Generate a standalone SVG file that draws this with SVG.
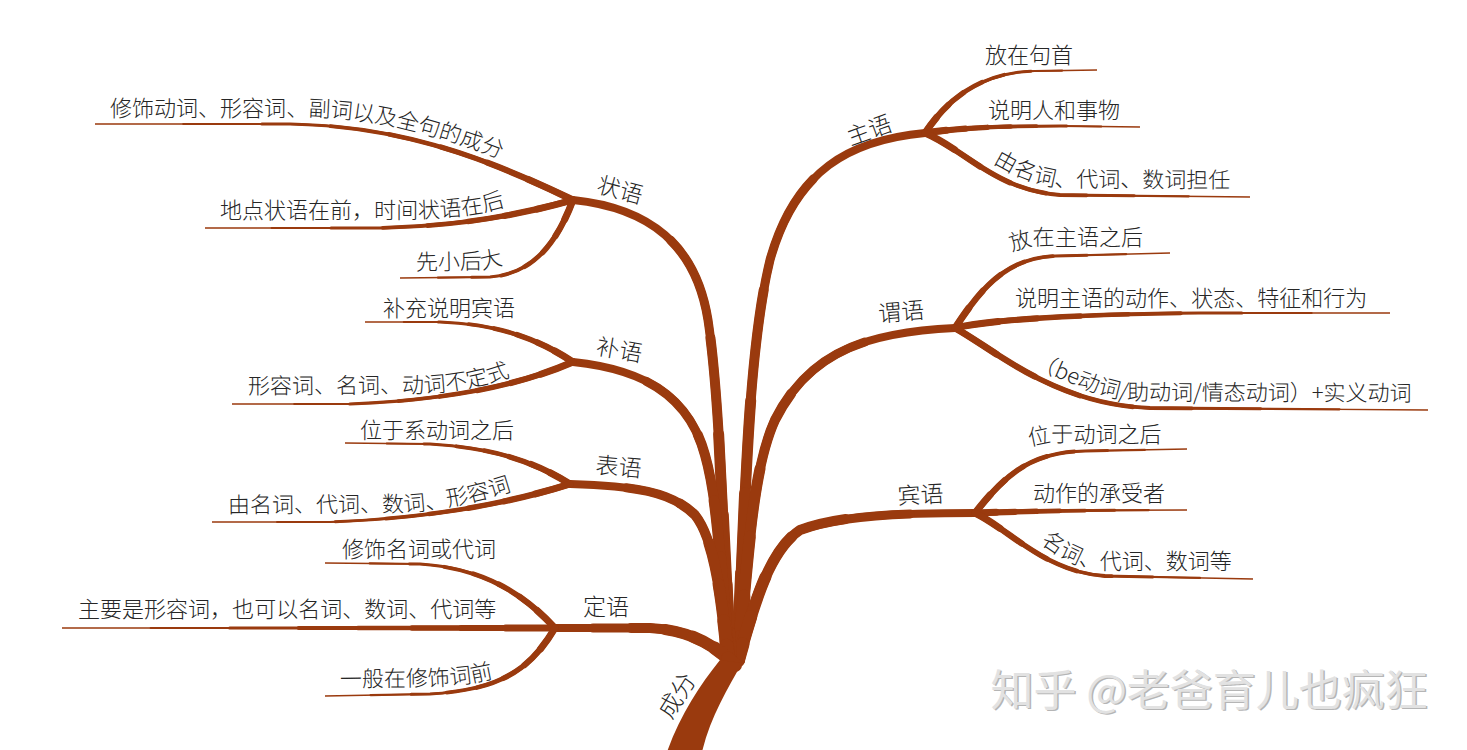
<svg xmlns="http://www.w3.org/2000/svg" width="1467" height="750" viewBox="0 0 1467 750">
<style>
.br{fill:none;stroke:#9A3A0E;stroke-linecap:round}
.m1{stroke-width:8}
.m2{stroke-width:9;stroke-dasharray:80 200}
.m3{stroke-width:10;stroke-dasharray:60 200}
.m4{stroke-width:11;stroke-dasharray:42 200}
.m5{stroke-width:12;stroke-dasharray:27 200}
.m6{stroke-width:13;stroke-dasharray:14 200}
.m7{stroke-width:14;stroke-dasharray:5 200}
.b1{stroke-width:1.4;stroke-linecap:butt}
.b2{stroke-width:2.2;stroke-dasharray:82 200}
.b3{stroke-width:3;stroke-dasharray:66 200}
.b4{stroke-width:3.8;stroke-dasharray:52 200}
.b5{stroke-width:4.6;stroke-dasharray:40 200}
.b6{stroke-width:5.4;stroke-dasharray:29 200}
.b7{stroke-width:6.2;stroke-dasharray:19 200}
.b8{stroke-width:7;stroke-dasharray:10 200}
.a2{stroke-width:2.2;stroke-dasharray:82 200;stroke-dashoffset:-18}
.a3{stroke-width:3;stroke-dasharray:66 200;stroke-dashoffset:-34}
.a4{stroke-width:3.8;stroke-dasharray:52 200;stroke-dashoffset:-48}
.a5{stroke-width:4.6;stroke-dasharray:40 200;stroke-dashoffset:-60}
.a6{stroke-width:5.4;stroke-dasharray:29 200;stroke-dashoffset:-71}
.a7{stroke-width:6.2;stroke-dasharray:19 200;stroke-dashoffset:-81}
.a8{stroke-width:7;stroke-dasharray:10 200;stroke-dashoffset:-90}
.t{font-family:"Noto Sans CJK SC","Noto Sans",sans-serif;font-size:22px;font-weight:300;fill:#262626}
.k{font-size:23px}
.wm{font-family:"Noto Sans CJK SC","Noto Sans",sans-serif;font-size:43px}
</style>
<defs>
<path id="mZhu" pathLength="100" d="M738,660 C745,500 748,350 770,260 C795,170 850,140 925,133"/>
<path id="mWei" pathLength="100" d="M738,660 C748,560 752,470 775,420 C810,350 870,332 955,328"/>
<path id="mBin" pathLength="100" d="M738,660 C755,600 770,550 800,530 C840,515 900,513 975,513"/>
<path id="mZhuang" pathLength="100" d="M730,660 C722,520 720,400 708,320 C696,245 650,208 573,200"/>
<path id="mBu" pathLength="100" d="M728,660 C722,580 718,500 705,455 C690,400 650,370 573,362"/>
<path id="mBiao" pathLength="100" d="M728,660 C722,600 715,540 695,515 C670,490 630,486 570,484"/>
<path id="mDing" pathLength="100" d="M735,665 C715,645 690,630 650,628 L555,628"/>
<path id="S1" pathLength="100" d="M925,133 C950,95 985,72 1035,71 L1097,70"/>
<path id="S2" pathLength="100" d="M925,133 C965,127 1010,126 1060,126 L1140,127"/>
<path id="S3" pathLength="100" d="M925,133 C965,150 995,190 1060,195 L1250,197"/>
<path id="W1" pathLength="100" d="M955,328 C980,290 1005,258 1055,256 L1170,253"/>
<path id="W2" pathLength="100" d="M955,328 C1000,318 1100,314 1200,313 L1390,313"/>
<path id="W3" pathLength="100" d="M955,328 C995,350 1055,405 1150,408 L1428,410"/>
<path id="O1" pathLength="100" d="M975,513 C1005,475 1030,452 1085,451 L1187,449"/>
<path id="O2" pathLength="100" d="M975,513 C1030,511 1100,510 1187,510"/>
<path id="O3" pathLength="100" d="M975,513 C1010,530 1045,572 1105,576 L1253,579"/>
<path id="Z1" pathLength="100" d="M95,124 L290,124 C390,126 470,150 573,200"/>
<path id="Z2" pathLength="100" d="M205,228 L380,228 C460,226 520,215 573,200"/>
<path id="Z3" pathLength="100" d="M400,278 L490,277 C532,274 556,245 573,200"/>
<path id="B1" pathLength="100" d="M365,322 L440,322 C500,324 540,340 573,362"/>
<path id="B2" pathLength="100" d="M232,404 L350,404 C450,400 520,385 573,362"/>
<path id="E1" pathLength="100" d="M345,443 L430,444 C500,448 540,465 570,484"/>
<path id="E2" pathLength="100" d="M212,522 L330,522 C440,518 520,500 570,484"/>
<path id="D1" pathLength="100" d="M325,563 L420,564 C480,568 520,590 555,628"/>
<path id="D2" pathLength="100" d="M62,628 L555,628"/>
<path id="D3" pathLength="100" d="M325,696 L430,694 C500,690 530,670 555,628"/>
<path id="tZ1" d="M110,116 L300,116 C370,117 430,130 530,170"/>
<path id="tZ2" d="M220,218 L420,218 C460,217 490,213 520,201"/>
<path id="tZ3" d="M416,270 L480,269 C490,268 498,266 512,261"/>
<path id="tB1" d="M383,316 L530,316"/>
<path id="tB2" d="M248,394 L420,393 C460,391 490,385 525,371"/>
<path id="tE1" d="M360,438 L530,438"/>
<path id="tE2" d="M228,513 L400,512 C440,510 480,502 522,487"/>
<path id="tD1" d="M342,557 L510,557"/>
<path id="tD2" d="M78,617 L510,617"/>
<path id="tD3" d="M340,687 L430,686 C460,685 480,682 505,675"/>
<path id="tS1" d="M985,63 L1090,63"/>
<path id="tS2" d="M988,118 L1130,118"/>
<path id="tS3" d="M993,163 C1010,173 1030,184 1060,187 L1250,188"/>
<path id="tW1" d="M1012,252 C1025,246 1035,245 1050,245 L1160,245"/>
<path id="tW2" d="M1015,306 L1380,306"/>
<path id="tW3" d="M1033,367 C1060,378 1090,395 1130,400 L1420,401"/>
<path id="tO1" d="M1030,447 C1040,443 1050,442 1065,442 L1180,442"/>
<path id="tO2" d="M1033,501 L1180,501"/>
<path id="tO3" d="M1040,543 C1055,553 1070,566 1100,569 L1250,569"/>
</defs>

<g id="connectors" class="br">
<g id="main-branches">
<use href="#mZhu" class="m1"/><use href="#mZhu" class="m2"/><use href="#mZhu" class="m3"/><use href="#mZhu" class="m4"/><use href="#mZhu" class="m5"/><use href="#mZhu" class="m6"/><use href="#mZhu" class="m7"/>
<use href="#mWei" class="m1"/><use href="#mWei" class="m2"/><use href="#mWei" class="m3"/><use href="#mWei" class="m4"/><use href="#mWei" class="m5"/><use href="#mWei" class="m6"/><use href="#mWei" class="m7"/>
<use href="#mBin" class="m1"/><use href="#mBin" class="m2"/><use href="#mBin" class="m3"/><use href="#mBin" class="m4"/><use href="#mBin" class="m5"/><use href="#mBin" class="m6"/><use href="#mBin" class="m7"/>
<use href="#mZhuang" class="m1"/><use href="#mZhuang" class="m2"/><use href="#mZhuang" class="m3"/><use href="#mZhuang" class="m4"/><use href="#mZhuang" class="m5"/><use href="#mZhuang" class="m6"/><use href="#mZhuang" class="m7"/>
<use href="#mBu" class="m1"/><use href="#mBu" class="m2"/><use href="#mBu" class="m3"/><use href="#mBu" class="m4"/><use href="#mBu" class="m5"/><use href="#mBu" class="m6"/><use href="#mBu" class="m7"/>
<use href="#mBiao" class="m1"/><use href="#mBiao" class="m2"/><use href="#mBiao" class="m3"/><use href="#mBiao" class="m4"/><use href="#mBiao" class="m5"/><use href="#mBiao" class="m6"/><use href="#mBiao" class="m7"/>
<use href="#mDing" class="m1"/><use href="#mDing" class="m2"/><use href="#mDing" class="m3"/><use href="#mDing" class="m4"/><use href="#mDing" class="m5"/><use href="#mDing" class="m6"/><use href="#mDing" class="m7"/>
</g>
<g id="right-subs">
<use href="#S1" class="b1"/><use href="#S1" class="b2"/><use href="#S1" class="b3"/><use href="#S1" class="b4"/><use href="#S1" class="b5"/><use href="#S1" class="b6"/><use href="#S1" class="b7"/><use href="#S1" class="b8"/>
<use href="#S2" class="b1"/><use href="#S2" class="b2"/><use href="#S2" class="b3"/><use href="#S2" class="b4"/><use href="#S2" class="b5"/><use href="#S2" class="b6"/><use href="#S2" class="b7"/><use href="#S2" class="b8"/>
<use href="#S3" class="b1"/><use href="#S3" class="b2"/><use href="#S3" class="b3"/><use href="#S3" class="b4"/><use href="#S3" class="b5"/><use href="#S3" class="b6"/><use href="#S3" class="b7"/><use href="#S3" class="b8"/>
<use href="#W1" class="b1"/><use href="#W1" class="b2"/><use href="#W1" class="b3"/><use href="#W1" class="b4"/><use href="#W1" class="b5"/><use href="#W1" class="b6"/><use href="#W1" class="b7"/><use href="#W1" class="b8"/>
<use href="#W2" class="b1"/><use href="#W2" class="b2"/><use href="#W2" class="b3"/><use href="#W2" class="b4"/><use href="#W2" class="b5"/><use href="#W2" class="b6"/><use href="#W2" class="b7"/><use href="#W2" class="b8"/>
<use href="#W3" class="b1"/><use href="#W3" class="b2"/><use href="#W3" class="b3"/><use href="#W3" class="b4"/><use href="#W3" class="b5"/><use href="#W3" class="b6"/><use href="#W3" class="b7"/><use href="#W3" class="b8"/>
<use href="#O1" class="b1"/><use href="#O1" class="b2"/><use href="#O1" class="b3"/><use href="#O1" class="b4"/><use href="#O1" class="b5"/><use href="#O1" class="b6"/><use href="#O1" class="b7"/><use href="#O1" class="b8"/>
<use href="#O2" class="b1"/><use href="#O2" class="b2"/><use href="#O2" class="b3"/><use href="#O2" class="b4"/><use href="#O2" class="b5"/><use href="#O2" class="b6"/><use href="#O2" class="b7"/><use href="#O2" class="b8"/>
<use href="#O3" class="b1"/><use href="#O3" class="b2"/><use href="#O3" class="b3"/><use href="#O3" class="b4"/><use href="#O3" class="b5"/><use href="#O3" class="b6"/><use href="#O3" class="b7"/><use href="#O3" class="b8"/>
</g>
<g id="left-subs">
<use href="#Z1" class="b1"/><use href="#Z1" class="a2"/><use href="#Z1" class="a3"/><use href="#Z1" class="a4"/><use href="#Z1" class="a5"/><use href="#Z1" class="a6"/><use href="#Z1" class="a7"/><use href="#Z1" class="a8"/>
<use href="#Z2" class="b1"/><use href="#Z2" class="a2"/><use href="#Z2" class="a3"/><use href="#Z2" class="a4"/><use href="#Z2" class="a5"/><use href="#Z2" class="a6"/><use href="#Z2" class="a7"/><use href="#Z2" class="a8"/>
<use href="#Z3" class="b1"/><use href="#Z3" class="a2"/><use href="#Z3" class="a3"/><use href="#Z3" class="a4"/><use href="#Z3" class="a5"/><use href="#Z3" class="a6"/><use href="#Z3" class="a7"/><use href="#Z3" class="a8"/>
<use href="#B1" class="b1"/><use href="#B1" class="a2"/><use href="#B1" class="a3"/><use href="#B1" class="a4"/><use href="#B1" class="a5"/><use href="#B1" class="a6"/><use href="#B1" class="a7"/><use href="#B1" class="a8"/>
<use href="#B2" class="b1"/><use href="#B2" class="a2"/><use href="#B2" class="a3"/><use href="#B2" class="a4"/><use href="#B2" class="a5"/><use href="#B2" class="a6"/><use href="#B2" class="a7"/><use href="#B2" class="a8"/>
<use href="#E1" class="b1"/><use href="#E1" class="a2"/><use href="#E1" class="a3"/><use href="#E1" class="a4"/><use href="#E1" class="a5"/><use href="#E1" class="a6"/><use href="#E1" class="a7"/><use href="#E1" class="a8"/>
<use href="#E2" class="b1"/><use href="#E2" class="a2"/><use href="#E2" class="a3"/><use href="#E2" class="a4"/><use href="#E2" class="a5"/><use href="#E2" class="a6"/><use href="#E2" class="a7"/><use href="#E2" class="a8"/>
<use href="#D1" class="b1"/><use href="#D1" class="a2"/><use href="#D1" class="a3"/><use href="#D1" class="a4"/><use href="#D1" class="a5"/><use href="#D1" class="a6"/><use href="#D1" class="a7"/><use href="#D1" class="a8"/>
<use href="#D2" class="b1"/><use href="#D2" class="a2"/><use href="#D2" class="a3"/><use href="#D2" class="a4"/><use href="#D2" class="a5"/><use href="#D2" class="a6"/><use href="#D2" class="a7"/><use href="#D2" class="a8"/>
<use href="#D3" class="b1"/><use href="#D3" class="a2"/><use href="#D3" class="a3"/><use href="#D3" class="a4"/><use href="#D3" class="a5"/><use href="#D3" class="a6"/><use href="#D3" class="a7"/><use href="#D3" class="a8"/>
</g>
<path id="trunk" d="M720,660 L742,663 C728,688 710,718 702,752 L667,752 C680,715 700,685 720,660 Z" fill="#9A3A0E" stroke="none"/>
</g>

<g id="root" class="t"><text transform="translate(684,700) rotate(-58)" text-anchor="middle" font-size="24">成分</text></g>

<g id="zhuyu" class="t"><text class="k" transform="translate(872,138) rotate(-20)" text-anchor="middle">主语</text></g>
<g id="zhuyu-1" class="t"><text><textPath href="#tS1">放在句首</textPath></text></g>
<g id="zhuyu-2" class="t"><text><textPath href="#tS2">说明人和事物</textPath></text></g>
<g id="zhuyu-3" class="t"><text><textPath href="#tS3">由名词、代词、数词担任</textPath></text></g>

<g id="weiyu" class="t"><text class="k" transform="translate(902,320) rotate(-5)" text-anchor="middle">谓语</text></g>
<g id="weiyu-1" class="t"><text><textPath href="#tW1">放在主语之后</textPath></text></g>
<g id="weiyu-2" class="t"><text><textPath href="#tW2">说明主语的动作、状态、特征和行为</textPath></text></g>
<g id="weiyu-3" class="t"><text><textPath href="#tW3">（be动词/助动词/情态动词）+实义动词</textPath></text></g>

<g id="binyu" class="t"><text class="k" transform="translate(921,503) rotate(-3)" text-anchor="middle">宾语</text></g>
<g id="binyu-1" class="t"><text><textPath href="#tO1">位于动词之后</textPath></text></g>
<g id="binyu-2" class="t"><text><textPath href="#tO2">动作的承受者</textPath></text></g>
<g id="binyu-3" class="t"><text><textPath href="#tO3">名词、代词、数词等</textPath></text></g>

<g id="zhuangyu" class="t"><text class="k" transform="translate(618,198) rotate(15)" text-anchor="middle">状语</text></g>
<g id="zhuangyu-1" class="t"><text><textPath href="#tZ1">修饰动词、形容词、副词以及全句的成分</textPath></text></g>
<g id="zhuangyu-2" class="t"><text><textPath href="#tZ2">地点状语在前，时间状语在后</textPath></text></g>
<g id="zhuangyu-3" class="t"><text><textPath href="#tZ3">先小后大</textPath></text></g>

<g id="buyu" class="t"><text class="k" transform="translate(618,358) rotate(10)" text-anchor="middle">补语</text></g>
<g id="buyu-1" class="t"><text><textPath href="#tB1">补充说明宾语</textPath></text></g>
<g id="buyu-2" class="t"><text><textPath href="#tB2">形容词、名词、动词不定式</textPath></text></g>

<g id="biaoyu" class="t"><text class="k" transform="translate(618,475) rotate(5)" text-anchor="middle">表语</text></g>
<g id="biaoyu-1" class="t"><text><textPath href="#tE1">位于系动词之后</textPath></text></g>
<g id="biaoyu-2" class="t"><text><textPath href="#tE2">由名词、代词、数词、形容词</textPath></text></g>

<g id="dingyu" class="t"><text class="k" x="606" y="615" text-anchor="middle">定语</text></g>
<g id="dingyu-1" class="t"><text><textPath href="#tD1">修饰名词或代词</textPath></text></g>
<g id="dingyu-2" class="t"><text><textPath href="#tD2">主要是形容词，也可以名词、数词、代词等</textPath></text></g>
<g id="dingyu-3" class="t"><text><textPath href="#tD3">一般在修饰词前</textPath></text></g>

<g id="watermark" class="wm">
<text x="992" y="707" fill="#b5b5b5">知乎 @老爸育儿也疯狂</text>
<text x="990.5" y="705.5" fill="#e2e2e2">知乎 @老爸育儿也疯狂</text>
</g>
</svg>
